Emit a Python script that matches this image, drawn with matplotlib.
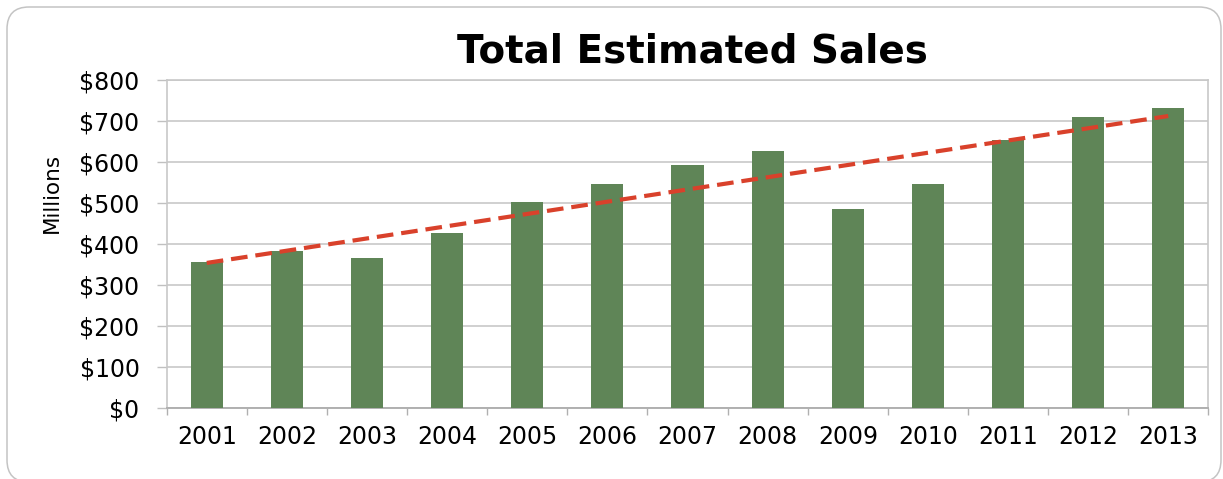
import matplotlib.pyplot as plt
import numpy as np
from matplotlib.patches import FancyBboxPatch

years = ["2001", "2002", "2003", "2004", "2005", "2006", "2007",
         "2008", "2009", "2010", "2011", "2012", "2013"]
sales = [356, 384, 366, 428, 503, 547, 594, 628, 485, 547, 654, 709, 731]
y_ticks = [0, 100, 200, 300, 400, 500, 600, 700, 800]

plt.rcParams["font.family"] = ["DejaVu Sans"]

fig = plt.figure(figsize=(12.23, 4.79), dpi=100)
ax = fig.add_axes([0.1363, 0.1476, 0.8517, 0.6854])

x = np.arange(1, len(sales) + 1)
ax.bar(x, sales, width=0.4, color="#5f8557", zorder=3)

# linear trendline fitted to the yearly totals
m, b = np.polyfit(x, sales, 1)
ax.plot(x, m * x + b, color="#d9412b", linewidth=3,
        linestyle=(0, (4.0, 1.9)), zorder=4)

ax.set_xlim(0.5, len(sales) + 0.5)
ax.set_ylim(0, 800)
ax.set_yticks(y_ticks)
ax.set_yticklabels([f"${v}" for v in y_ticks], fontsize=17)
ax.set_xticks(x)
ax.set_xticklabels(years, fontsize=17)
ax.set_xticks(np.arange(0.5, len(sales) + 1), minor=True)
ax.tick_params(axis="x", which="major", length=0, pad=12)
ax.tick_params(axis="x", which="minor", length=5, width=1, color="#b0b0b0")
ax.tick_params(axis="y", length=7.5, width=1, color="#c0c0c0", pad=12)

ax.grid(axis="y", color="#c8c8c8", linewidth=1.2, zorder=0)
for side in ["top", "right", "left"]:
    ax.spines[side].set_color("#c8c8c8")
    ax.spines[side].set_linewidth(1.2)
ax.spines["bottom"].set_color("#b0b0b0")
ax.spines["bottom"].set_linewidth(1.4)

fig.text(0.0425, 0.597, "Millions", fontsize=15.5, rotation=90,
         ha="center", va="center")

fig.text(0.566, 0.8685, "Total Estimated Sales", fontsize=28,
         fontweight="bold", ha="center", va="baseline")

# rounded outer frame
frame = FancyBboxPatch((0.07, -0.03), 12.14, 4.75,
                       boxstyle="round,pad=0,rounding_size=0.22",
                       transform=fig.dpi_scale_trans, facecolor="none",
                       edgecolor="#c4c4c4", linewidth=1.1)
fig.patches.append(frame)

fig.savefig("out.png", dpi=100)
